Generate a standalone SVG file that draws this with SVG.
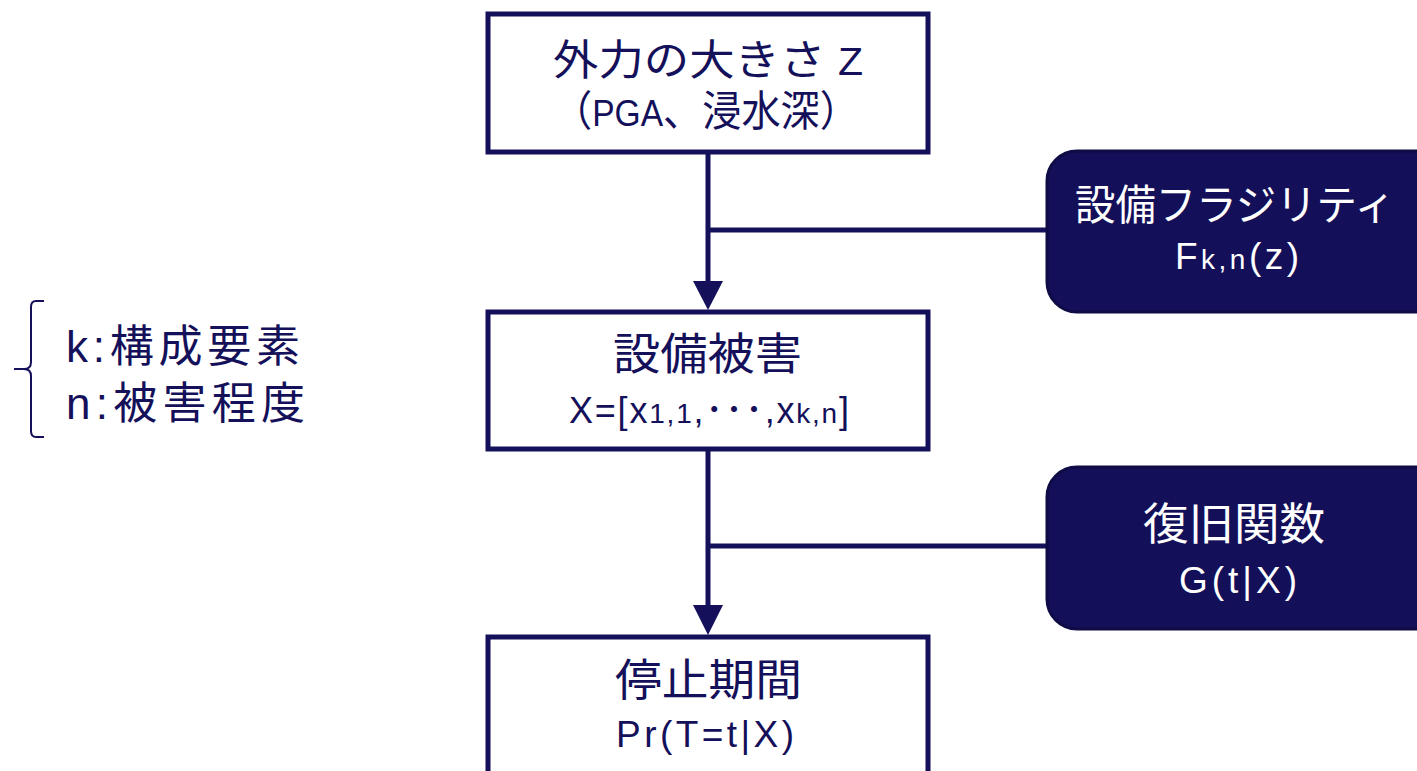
<svg xmlns="http://www.w3.org/2000/svg" width="1417" height="771" viewBox="0 0 1417 771">
<style>
.box{fill:#ffffff;stroke:#14105a;stroke-width:5}
.dbox{fill:#140f59;stroke:#0e0b45;stroke-width:3}
.j{font-family:"Liberation Sans","Noto Sans CJK JP",sans-serif;font-weight:400}
.a{font-family:"Liberation Sans","Noto Sans CJK JP",sans-serif}
.n{fill:#14105a}
.w{fill:#ffffff}
.ln{stroke:#14105a;stroke-width:5;fill:none}
</style>
<g id="connectors">
<line class="ln" x1="708" y1="152" x2="708" y2="282"/>
<path d="M693,281 L723,281 L708,310 Z" fill="#14105a"/>
<line class="ln" x1="708" y1="230" x2="1048" y2="230"/>
<line class="ln" x1="708" y1="449" x2="708" y2="606"/>
<path d="M693,605 L723,605 L708,635 Z" fill="#14105a"/>
<line class="ln" x1="708" y1="546" x2="1048" y2="546"/>
</g>
<g id="node-force">
<rect class="box" x="488" y="14" width="440" height="138"/>
<text class="j n" x="553" y="75" font-size="42" textLength="310" lengthAdjust="spacingAndGlyphs">外力の大きさ <tspan font-size="38">Z</tspan></text>
<text class="j n" x="553" y="126" font-size="42" textLength="306" lengthAdjust="spacingAndGlyphs">（<tspan font-size="36">PGA</tspan>、浸水深）</text>
</g>
<g id="node-fragility">
<rect class="dbox" x="1047" y="151" width="400" height="161" rx="30"/>
<text class="j w" x="1075" y="220" font-size="42" textLength="320" lengthAdjust="spacingAndGlyphs">設備フラジリティ</text>
<text class="a w" x="1175" y="269" font-size="37" textLength="124" lengthAdjust="spacing">F<tspan font-size="28">k,n</tspan>(z)</text>
</g>
<g id="node-damage">
<rect class="box" x="488" y="312" width="440" height="137"/>
<text class="j n" x="613" y="370" font-size="44" textLength="189" lengthAdjust="spacingAndGlyphs">設備被害</text>
<text class="a n" x="569" y="423" font-size="36" textLength="280" lengthAdjust="spacing">X=[x<tspan font-size="28">1,1</tspan>,･･･,x<tspan font-size="28">k,n</tspan>]</text>
</g>
<g id="legend">
<path d="M44,301 L36,301 Q31,301 31,307 L31,362 Q31,369 24,369 L14,369 M24,369 Q31,369 31,376 L31,431 Q31,437 36,437 L44,437" fill="none" stroke="#14105a" stroke-width="2"/>
<text class="j n" x="66" y="362" font-size="44" textLength="234" lengthAdjust="spacing">k:構成要素</text>
<text class="j n" x="66" y="419" font-size="44" textLength="239" lengthAdjust="spacing">n:被害程度</text>
</g>
<g id="node-recovery">
<rect class="dbox" x="1047" y="467" width="400" height="162" rx="30"/>
<text class="j w" x="1143" y="540" font-size="44" textLength="182" lengthAdjust="spacingAndGlyphs">復旧関数</text>
<text class="a w" x="1179" y="593" font-size="37" textLength="118" lengthAdjust="spacing">G(t|X)</text>
</g>
<g id="node-downtime">
<rect class="box" x="488" y="637" width="440" height="160"/>
<text class="j n" x="615" y="696" font-size="44" textLength="187" lengthAdjust="spacingAndGlyphs">停止期間</text>
<text class="a n" x="616" y="747" font-size="37" textLength="178" lengthAdjust="spacing">Pr(T=t|X)</text>
</g>
</svg>
